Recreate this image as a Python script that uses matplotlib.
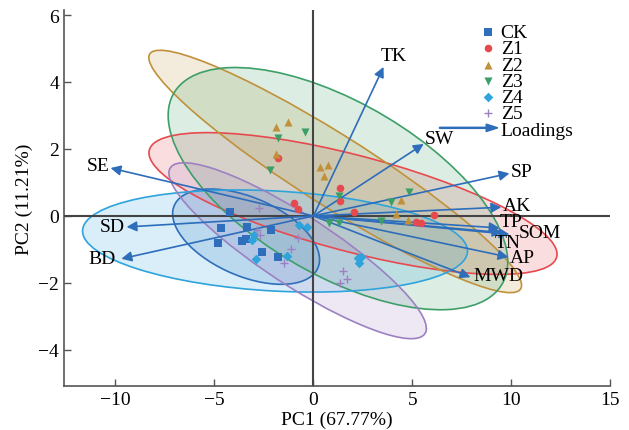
import numpy as np
import matplotlib
matplotlib.use("Agg")
import matplotlib.pyplot as plt
import matplotlib.patches as mpatches
from matplotlib.legend_handler import HandlerPatch

plt.rcParams['font.family'] = ['Liberation Serif', 'DejaVu Serif']

# sample scores (PC1, PC2) per group
groups = ['CK', 'Z1', 'Z2', 'Z3', 'Z4', 'Z5']
ck_x = [-4.23, -4.65, -4.83, -3.35, -3.59, -3.43, -2.16, -2.59, -1.78]
ck_y = [0.11, -0.37, -0.82, -0.34, -0.75, -0.69, -0.42, -1.08, -1.22]
z1_x = [-0.97, -0.79, -1.77, 1.36, 1.36, 2.04, 5.19, 5.45, 6.11]
z1_y = [0.38, 0.21, 1.74, 0.84, 0.44, 0.11, -0.19, -0.22, 0.02]
z2_x = [-1.90, -1.31, -1.87, 0.32, 0.72, 0.52, 4.41, 4.19, 4.80]
z2_y = [2.67, 2.80, 1.85, 1.47, 1.53, 1.20, 0.48, 0.06, -0.11]
z3_x = [-0.45, -1.77, -2.19, 1.31, 3.94, 4.85, 0.77, 1.28, 3.40]
z3_y = [2.50, 2.32, 1.38, 0.59, 0.41, 0.71, -0.21, -0.21, -0.16]
z4_x = [-3.02, -3.10, -2.89, -1.36, -0.74, -0.32, 2.24, 2.29, 2.42]
z4_y = [-0.56, -0.72, -1.29, -1.19, -0.27, -0.34, -1.26, -1.42, -1.23]
z5_x = [-2.76, -2.84, -2.68, -0.79, -1.13, -1.50, 1.48, 1.68, 1.35]
z5_y = [0.25, -0.42, -0.56, -0.67, -1.00, -1.41, -1.65, -1.89, -2.01]

# Z4 ellipse (centre x, centre y, width, height, angle)
z4_ell = (-1.94, -0.75, 19.45, 2.99, -1.8)

# loadings (arrow tips)
var_names = ['TK', 'SW', 'SP', 'AK', 'TP', 'SOM', 'TN', 'AP', 'MWD', 'SE', 'SD', 'BD']
load_x = [3.54, 5.57, 9.90, 9.49, 9.40, 9.90, 9.55, 9.85, 7.93, -10.25, -9.44, -9.70]
load_y = [4.45, 2.15, 1.27, 0.26, -0.36, -0.55, -0.50, -1.23, -1.83, 1.43, -0.33, -1.28]

# label offsets in points
lab_off = {'TK': (7, 8), 'SW': (11, 4), 'SP': (9, 1), 'AK': (11, 1), 'TP': (8, 5),
           'SOM': (22, 1), 'TN': (4, -7), 'AP': (10, 0), 'MWD': (20, 1),
           'SE': (-9, 2), 'SD': (-10, 0), 'BD': (-14, 0)}

xs = [ck_x, z1_x, z2_x, z3_x, z4_x, z5_x]
ys = [ck_y, z1_y, z2_y, z3_y, z4_y, z5_y]
colors = ['#2f6eba', '#e64a4f', '#c0913a', '#3d9f68', '#2ea3dc', '#9c80c2']
markers = ['s', 'o', '^', 'v', 'D', '+']
sizes = [26, 30, 34, 34, 24, 40]
arrow_col = '#2e6dba'


def pred_ellipse(x, y):
    # 95% prediction ellipse
    x = np.asarray(x)
    y = np.asarray(y)
    n = len(x)
    cov = np.cov(x, y)
    F = (n - 2) / 2 * (0.05 ** (-2 / (n - 2)) - 1)
    k = np.sqrt(2 * (n - 1) * (n + 1) / (n * (n - 2)) * F)
    vals, vecs = np.linalg.eigh(cov)
    order = vals.argsort()[::-1]
    vals, vecs = vals[order], vecs[:, order]
    ang = np.degrees(np.arctan2(vecs[1, 0], vecs[0, 0]))
    w, h = 2 * k * np.sqrt(vals)
    return x.mean(), y.mean(), w, h, ang


def draw_ellipse(ax, params, color):
    cx, cy, w, h, ang = params
    ax.add_patch(mpatches.Ellipse((cx, cy), w, h, angle=ang,
                                  facecolor=color, alpha=0.18, edgecolor='none', zorder=1))
    ax.add_patch(mpatches.Ellipse((cx, cy), w, h, angle=ang,
                                  facecolor='none', edgecolor=color, lw=1.2, zorder=2))


def make_arrow(legend, orig_handle, xdescent, ydescent, width, height, fontsize):
    return mpatches.FancyArrow(-2 * width, 0.5 * height, 3 * width, 0,
                               length_includes_head=True, width=0.08 * height,
                               head_width=0.55 * height, head_length=0.6 * width,
                               color=arrow_col)


fig = plt.figure(figsize=(6.29, 4.31), dpi=100)
ax = fig.add_axes([0.1017, 0.1021, 0.8688, 0.8724])

for i, g in enumerate(groups):
    if g == 'Z4':
        draw_ellipse(ax, z4_ell, colors[i])
    else:
        draw_ellipse(ax, pred_ellipse(xs[i], ys[i]), colors[i])

ax.axhline(0, color='#444444', lw=1.5, zorder=3)
ax.axvline(0, color='#444444', lw=1.5, zorder=3)

for i, g in enumerate(groups):
    if markers[i] == '+':
        ax.scatter(xs[i], ys[i], marker='+', s=sizes[i], color=colors[i], lw=1.0, zorder=5, label=g)
    else:
        ax.scatter(xs[i], ys[i], marker=markers[i], s=sizes[i], color=colors[i], lw=0, zorder=5, label=g)

for name, lx, ly in zip(var_names, load_x, load_y):
    ax.annotate('', xy=(lx, ly), xytext=(0, 0),
                arrowprops=dict(arrowstyle='-|>', color=arrow_col, lw=1.2,
                                mutation_scale=15, shrinkA=0, shrinkB=0), zorder=4)
    ax.annotate(name, xy=(lx, ly), xytext=lab_off[name], textcoords='offset points',
                ha='center', va='center', fontsize=14, zorder=6)

arr_handle = mpatches.FancyArrow(0, 0, 1, 0, color=arrow_col)
h, l = ax.get_legend_handles_labels()
h.append(arr_handle)
l.append('Loadings')
ax.legend(h, l, loc='upper left', bbox_to_anchor=(0.737, 0.995), frameon=False,
          fontsize=14, handlelength=1.0, handletextpad=0.15, labelspacing=-0.07,
          borderaxespad=0.2, scatterpoints=1,
          handler_map={mpatches.FancyArrow: HandlerPatch(patch_func=make_arrow)})

ax.set_xlim(-12.6, 15)
ax.set_ylim(-5.08, 6.15)
ax.set_xticks([-10, -5, 0, 5, 10, 15])
ax.set_yticks([-4, -2, 0, 2, 4, 6])
ax.tick_params(direction='in', labelsize=14, color='#555555', length=5, width=1)
ax.spines['top'].set_visible(False)
ax.spines['right'].set_visible(False)
for s in ['left', 'bottom']:
    ax.spines[s].set_color('#555555')
    ax.spines[s].set_linewidth(1.2)
ax.set_xlabel('PC1 (67.77%)', fontsize=14, labelpad=2)
ax.set_ylabel('PC2 (11.21%)', fontsize=14, labelpad=4)

fig.savefig('out.png', dpi=100)
